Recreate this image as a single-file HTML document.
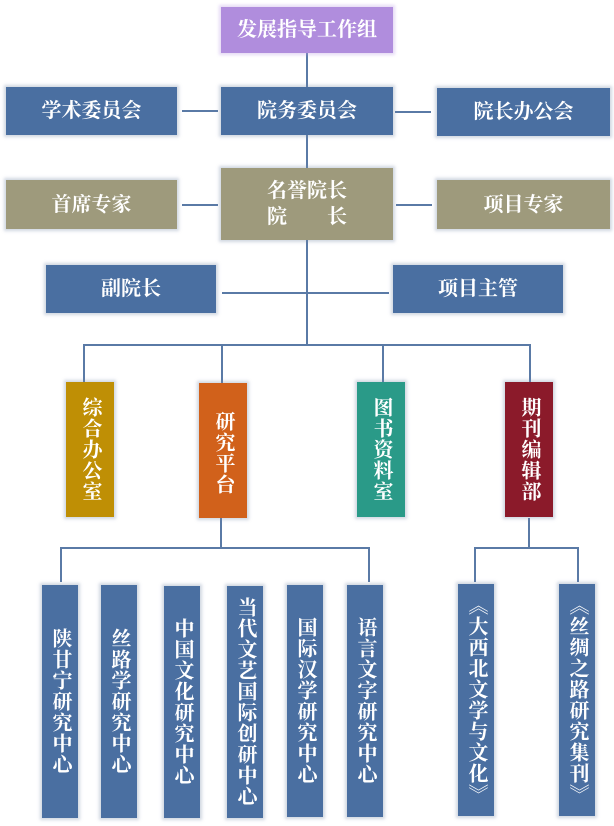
<!DOCTYPE html>
<html><head><meta charset="utf-8"><style>
body{margin:0;width:614px;height:826px;background:#fff;position:relative;overflow:hidden;font-family:"Liberation Serif","Noto Serif CJK SC",serif;}
.b{position:absolute;color:#fff;font-weight:bold;display:flex;align-items:center;justify-content:center;text-align:center;box-shadow:0 0 3px 2px rgba(120,140,170,0.35);font-size:20px;line-height:24px;}
.bl{background:#4a6fa1}.tn{background:#9e9a7c}
.v{writing-mode:vertical-rl;font-size:20px;line-height:20px;letter-spacing:1px;}
.l{position:absolute;background:#5a7aa6;}
</style></head><body>
<!-- lines -->
<div class="l" style="left:306px;top:53px;width:2px;height:293px"></div>
<div class="l" style="left:182px;top:110px;width:36px;height:2px"></div>
<div class="l" style="left:395px;top:111px;width:36px;height:2px"></div>
<div class="l" style="left:182px;top:204px;width:36px;height:2px"></div>
<div class="l" style="left:396px;top:204px;width:36px;height:2px"></div>
<div class="l" style="left:222px;top:292px;width:167px;height:2px"></div>
<div class="l" style="left:83px;top:344px;width:448px;height:2px"></div>
<div class="l" style="left:83px;top:344px;width:2px;height:38px"></div>
<div class="l" style="left:221px;top:344px;width:2px;height:39px"></div>
<div class="l" style="left:382px;top:344px;width:2px;height:38px"></div>
<div class="l" style="left:529px;top:344px;width:2px;height:38px"></div>
<div class="l" style="left:220px;top:518px;width:2px;height:30px"></div>
<div class="l" style="left:60px;top:547px;width:310px;height:2px"></div>
<div class="l" style="left:60px;top:547px;width:2px;height:35px"></div>
<div class="l" style="left:368px;top:547px;width:2px;height:35px"></div>
<div class="l" style="left:528px;top:518px;width:2px;height:30px"></div>
<div class="l" style="left:474px;top:547px;width:105px;height:2px"></div>
<div class="l" style="left:474px;top:547px;width:2px;height:35px"></div>
<div class="l" style="left:577px;top:547px;width:2px;height:35px"></div>
<!-- boxes -->
<div class="b" style="left:221px;top:7px;width:172px;height:46px;background:#b08ddd;box-shadow:0 0 3px 2px rgba(190,160,230,0.4)">发展指导工作组</div>
<div class="b bl" style="left:6px;top:87px;width:171px;height:48px">学术委员会</div>
<div class="b bl" style="left:221px;top:87px;width:172px;height:48px">院务委员会</div>
<div class="b bl" style="left:437px;top:88px;width:173px;height:48px">院长办公会</div>
<div class="b tn" style="left:6px;top:180px;width:171px;height:49px">首席专家</div>
<div class="b tn" style="left:221px;top:168px;width:172px;height:72px;line-height:26px">名誉院长<br>院　　长</div>
<div class="b tn" style="left:437px;top:180px;width:173px;height:49px">项目专家</div>
<div class="b bl" style="left:46px;top:265px;width:170px;height:48px">副院长</div>
<div class="b bl" style="left:393px;top:265px;width:170px;height:48px">项目主管</div>
<div class="b v" style="left:66px;top:382px;width:48px;height:135px;background:#bf8f05">综合办公室</div>
<div class="b v" style="left:199px;top:383px;width:48px;height:135px;background:#d1611b;justify-content:flex-start;padding-top:0"><span style="margin-top:28px">研究平台</span></div>
<div class="b v" style="left:357px;top:382px;width:48px;height:135px;background:#2a9a88">图书资料室</div>
<div class="b v" style="left:505px;top:382px;width:48px;height:135px;background:#8b1a2a">期刊编辑部</div>
<div class="b bl v" style="left:42px;top:585px;width:36px;height:233px">陕甘宁研究中心</div>
<div class="b bl v" style="left:101px;top:585px;width:36px;height:233px">丝路学研究中心</div>
<div class="b bl v" style="left:164px;top:586px;width:36px;height:232px">中国文化研究中心</div>
<div class="b bl v" style="left:227px;top:586px;width:36px;height:232px">当代文艺国际创研中心</div>
<div class="b bl v" style="left:287px;top:585px;width:36px;height:232px">国际汉学研究中心</div>
<div class="b bl v" style="left:347px;top:585px;width:36px;height:232px">语言文字研究中心</div>
<div class="b bl v" style="left:458px;top:584px;width:36px;height:232px">《大西北文学与文化》</div>
<div class="b bl v" style="left:559px;top:584px;width:36px;height:232px">《丝绸之路研究集刊》</div>
</body></html>
